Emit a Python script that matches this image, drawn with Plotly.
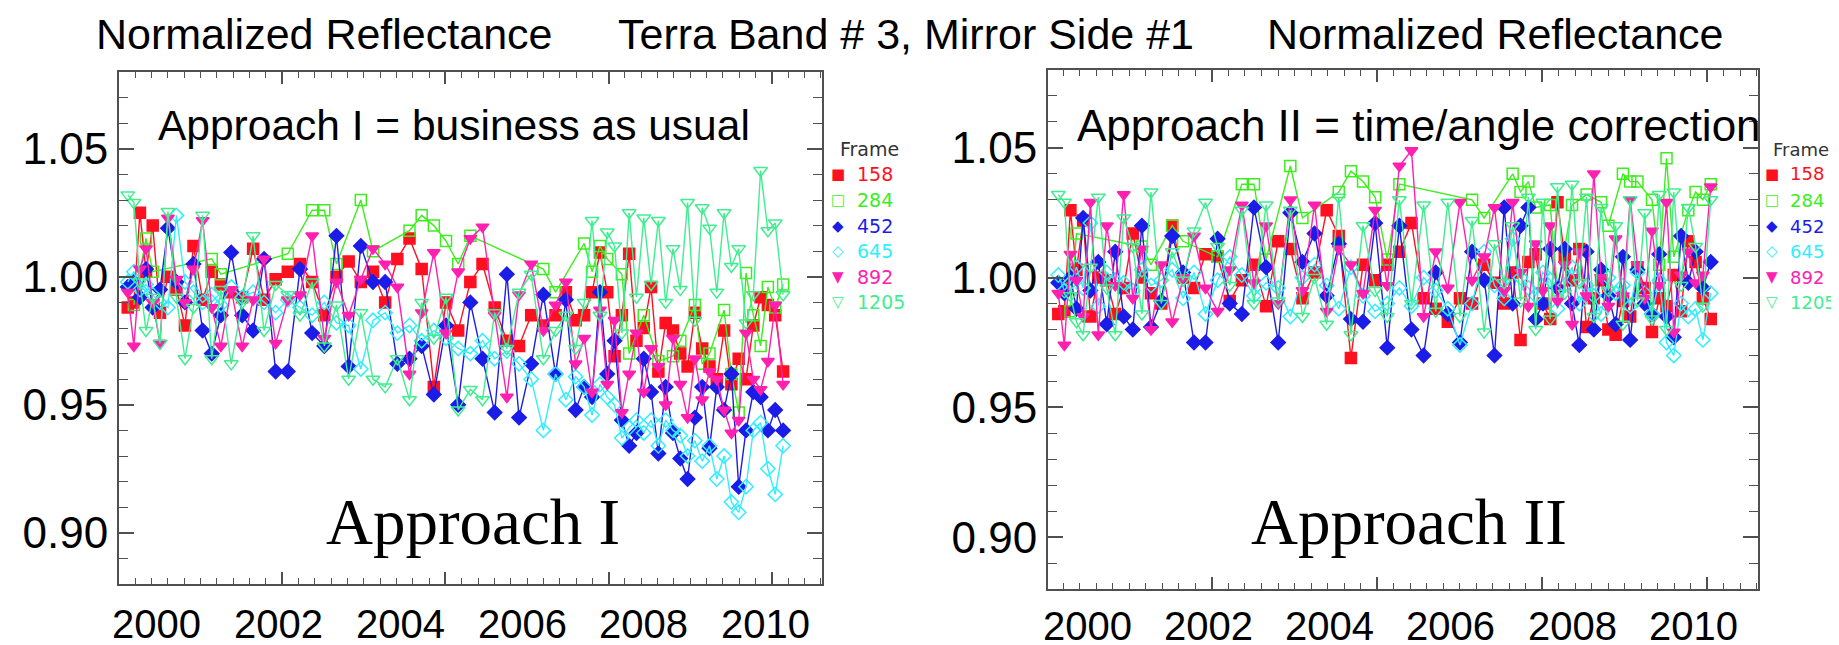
import plotly.graph_objects as go

W, H = 1839, 645


def px(x):
    return x / W


def py(y):
    return 1 - y / H


# ---------------- data ----------------
frames = ["158", "284", "452", "645", "892", "1205"]

dates = [
    1999.52, 1999.62, 1999.72, 1999.82, 1999.93, 2000.05, 2000.18, 2000.32, 2000.46, 2000.60,
    2000.75, 2000.90, 2001.05, 2001.22, 2001.40, 2001.58, 2001.76, 2001.95, 2002.15, 2002.35,
    2002.55, 2002.75, 2002.95, 2003.15, 2003.35, 2003.55, 2003.75, 2003.95, 2004.15, 2004.35,
    2004.55, 2004.75, 2004.95, 2005.15, 2005.35, 2005.55, 2005.75, 2005.95, 2006.15, 2006.35,
    2006.55, 2006.72, 2006.88, 2007.02, 2007.15, 2007.28, 2007.40, 2007.52, 2007.64, 2007.76,
    2007.88, 2008.00, 2008.12, 2008.24, 2008.36, 2008.48, 2008.60, 2008.72, 2008.84, 2008.96,
    2009.08, 2009.20, 2009.32, 2009.44, 2009.56, 2009.68, 2009.80, 2009.92, 2010.04, 2010.16,
    2010.29,
]

# Approach I
r1_158 = [
    0.988, 0.990, 1.025, 1.002, 1.020, 0.986, 1.000, 0.995, 0.981, 1.012,
    0.991, 1.002, 0.997, 0.994, 0.992, 1.011, 0.991, 0.999, 1.002, 1.005,
    0.998, 0.985, 1.000, 1.006, 0.998, 1.002, 0.990, 1.007, 1.015, 1.003,
    0.957, 0.990, 0.979, 0.998, 1.005, 0.988, 0.975, 0.973, 0.985, 0.981,
    0.985, 0.994, 0.983, 0.985, 0.994, 1.0095, 0.994, 0.969, 0.985, 1.009,
    0.975, 0.980, 0.996, 0.963, 0.982, 0.979, 0.970, 0.965, 0.986, 0.972,
    0.965, 0.960, 0.979, 0.958, 0.968, 0.960, 0.981, 0.992, 0.989, 0.985,
    0.963,
]
g1_284 = [
    None, 0.989, None, 1.015, 1.002, None, None, None, None, None,
    None, 1.007, 1.001, None, None, None, None, None, 1.009, None,
    1.026, 1.026, 1.005, None, 1.030, 1.010, None, None, 1.018, 1.024,
    1.020, 1.014, 1.005, 1.016, None, None, None, None, None, 1.003,
    0.994, None, None, 1.013, 1.002, 1.012, 1.007, None, 1.001, 0.970,
    None, 0.985, None, 0.967, None, 0.969, 0.975, None, 0.989, 0.966,
    0.970, None, 0.987, 0.962, 0.947, 1.0015, 0.985, 0.973, 0.996, 0.988,
    0.997,
]
b1_452 = [
    0.996, 0.998, 0.992, 1.003, 0.988, 0.995, 1.019, 0.998, 0.990, 1.005,
    0.979, 0.970, 0.985, 1.0095, 0.985, 0.979, 1.007, 0.963, 0.963, 1.003,
    0.978, 0.973, 1.016, 0.965, 1.012, 0.998, 0.998, 0.966, 0.968, 0.973,
    0.954, 0.981, 0.950, 0.990, 0.968, 0.947, 1.001, 0.945, 0.966, 0.993,
    0.962, 0.991, 0.948, 0.957, 0.953, 0.994, 0.962, 0.975, 0.944, 0.934,
    0.939, 0.968, 0.955, 0.931, 0.957, 0.939, 0.929, 0.921, 0.945, 0.957,
    0.933, 0.957, 0.948, 0.962, 0.918, 0.940, 0.955, 0.953, 0.940, 0.948,
    0.940,
]
c1_645 = [
    0.998, 1.002, 0.995, 0.997, 0.993, 0.990, 0.988, 1.024, 0.998, 0.994,
    0.990, 0.993, 0.989, 0.996, 0.992, 0.994, 0.990, 0.986, 0.991, 0.988,
    0.985, 0.990, 0.982, 0.981, 0.964, 0.983, 0.986, 0.978, 0.981, 0.975,
    0.979, 0.976, 0.972, 0.970, 0.975, 0.968, 0.971, 0.966, 0.960, 0.940,
    0.962, 0.952, 0.961, 0.957, 0.946, 0.958, 0.953, 0.950, 0.937, 0.941,
    0.944, 0.939, 0.944, 0.934, 0.944, 0.940, 0.938, 0.930, 0.936, 0.928,
    0.934, 0.921, 0.930, 0.912, 0.908, 0.918, 0.940, 0.943, 0.925, 0.915,
    0.934,
]
m1_892 = [
    0.994, 0.973, 1.003, 1.011, 0.990, 0.974, 1.023, 0.999, 0.990, 1.003,
    1.022, 0.988, 0.973, 0.995, 0.973, 0.991, 1.007, 0.974, 0.991, 0.993,
    1.016, 0.976, 0.998, 0.985, 0.999, 1.011, 1.005, 0.996, 0.962, 0.986,
    1.0095, 0.978, 1.002, 1.015, 1.0195, 0.985, 0.953, 0.993, 1.005, 0.979,
    0.989, 0.998, 0.966, 0.976, 0.955, 0.987, 0.958, 0.983, 0.947, 0.962,
    0.978, 0.955, 0.972, 0.965, 0.950, 0.976, 0.958, 0.945, 0.968, 0.952,
    0.963, 0.960, 0.948, 0.939, 0.944, 0.978, 0.960, 0.956, 0.967, 0.989,
    0.958,
]
s1_1205 = [
    1.032, 1.029, 0.998, 0.979, 0.992, 0.974, 1.0255, 0.992, 0.968, 0.988,
    1.024, 0.968, 0.995, 0.966, 0.990, 1.016, 0.979, 0.997, 0.993, 0.985,
    0.998, 0.973, 0.989, 0.960, 0.986, 0.960, 0.957, 0.968, 0.952, 0.990,
    0.976, 0.992, 0.948, 0.956, 0.952, 0.986, 0.972, 0.994, 1.001, 0.968,
    0.979, 0.985, 0.972, 0.990, 1.022, 0.985, 1.0175, 1.012, 0.978, 1.025,
    0.992, 1.023, 0.997, 1.022, 0.990, 1.011, 0.995, 1.029, 0.983, 1.027,
    1.019, 0.994, 1.025, 1.004, 1.011, 0.982, 0.993, 1.0415, 1.018, 1.021,
    0.993,
]

# Approach II
r2_158 = [
    0.986, 0.987, 1.026, 1.003, 1.022, 0.985, 1.000, 0.999, 0.986, 0.996,
    1.017, 1.000, 0.994, 0.990, 1.020, 1.000, 0.996, 1.009, 1.008, 0.991,
    0.999, 1.005, 0.989, 1.014, 1.011, 0.992, 1.002, 1.026, 1.016, 0.969,
    1.005, 0.999, 1.005, 1.010, 1.021, 0.992, 0.988, 0.983, 0.992, 0.990,
    1.005, 0.998, 0.990, 1.002, 0.976, 1.006, 1.009, 0.990, 0.984, 1.029,
    1.008, 0.999, 1.011, 0.981, 0.992, 0.999, 0.980, 0.978, 0.991, 0.985,
    1.004, 0.996, 0.979, 0.992, 0.989, 1.001, 0.987, 1.014, 1.006, 0.992,
    0.984,
]
g2_284 = [
    None, None, 0.987, 1.017, None, None, None, None, None, None,
    None, 1.012, 1.005, None, 1.020, 1.014, None, None, 1.008, None,
    1.036, 1.036, 1.007, None, 1.043, 1.023, None, None, 1.033, 1.041,
    1.037, 1.031, 1.007, 1.036, None, None, None, None, None, 1.030,
    1.023, None, None, 1.040, 1.033, 1.037, 1.027, None, 1.028, 0.995,
    None, 1.028, None, 1.032, None, 1.029, 1.020, None, 1.040, 1.037,
    1.037, None, 1.030, 1.005, 1.046, 1.008, None, 1.026, 1.033, 1.030,
    1.036,
]
b2_452 = [
    0.998, 0.994, 1.000, 0.988, 1.023, 0.995, 1.006, 0.982, 1.010, 0.985,
    0.980, 1.020, 0.981, 0.991, 1.016, 1.002, 0.975, 0.975, 1.015, 0.990,
    0.986, 1.027, 1.004, 0.975, 1.025, 1.006, 1.017, 0.993, 1.013, 0.984,
    0.983, 1.021, 0.973, 1.020, 0.980, 0.970, 1.002, 0.986, 0.975, 1.010,
    0.999, 0.970, 1.027, 0.990, 1.020, 1.027, 0.984, 0.990, 1.011, 0.996,
    1.011, 0.990, 0.974, 1.010, 0.980, 1.003, 0.993, 0.982, 1.008, 0.976,
    1.003, 0.990, 0.986, 1.009, 0.985, 0.977, 1.016, 0.998, 1.010, 0.996,
    1.006,
]
c2_645 = [
    1.001, 0.995, 0.998, 1.004, 0.996, 1.021, 0.989, 1.002, 0.999, 0.998,
    0.995, 1.003, 0.997, 0.999, 1.003, 0.992, 1.002, 0.986, 0.999, 1.008,
    1.001, 0.993, 0.998, 0.996, 0.985, 1.000, 1.005, 0.997, 0.988, 1.004,
    0.993, 0.987, 0.990, 0.996, 0.989, 1.000, 0.995, 0.988, 0.974, 0.990,
    1.010, 0.997, 0.992, 1.015, 1.000, 0.996, 0.993, 1.002, 0.999, 0.988,
    0.997, 1.004, 0.990, 0.997, 0.993, 0.986, 1.000, 0.994, 0.997, 0.989,
    1.002, 0.994, 0.986, 0.999, 0.975, 0.970, 0.990, 0.985, 0.988, 0.976,
    0.994,
]
m2_892 = [
    0.994, 0.974, 1.009, 0.999, 0.985, 1.029, 0.978, 1.020, 0.997, 1.032,
    0.992, 1.011, 0.980, 1.005, 0.983, 1.000, 1.016, 0.996, 0.987, 1.003,
    1.028, 0.998, 1.020, 0.990, 1.030, 0.995, 1.028, 0.987, 1.011, 1.005,
    0.994, 1.026, 0.997, 1.043, 1.049, 0.985, 1.010, 0.996, 1.029, 0.999,
    1.008, 1.027, 0.995, 1.029, 1.002, 0.989, 1.013, 0.995, 1.020, 0.991,
    1.005, 0.982, 1.010, 0.993, 1.040, 1.000, 0.989, 1.015, 0.993, 1.030,
    1.005, 0.992, 1.018, 0.997, 1.029, 0.979, 1.001, 1.010, 0.998, 1.001,
    1.035,
]
s2_1205 = [
    1.032, 1.029, 0.993, 0.983, 0.978, 1.004, 1.031, 0.996, 0.978, 1.023,
    1.012, 0.986, 1.033, 0.990, 1.010, 0.999, 1.018, 1.029, 1.012, 0.997,
    1.026, 0.990, 1.028, 0.991, 1.026, 0.985, 1.000, 0.982, 1.031, 0.978,
    1.020, 0.995, 0.985, 1.030, 0.990, 1.028, 0.987, 1.029, 0.985, 1.022,
    0.979, 1.013, 0.998, 1.020, 0.991, 1.031, 0.980, 1.029, 0.984, 1.035,
    0.994, 1.036, 0.998, 1.031, 0.985, 1.027, 0.995, 1.020, 0.982, 1.030,
    0.991, 1.025, 0.984, 1.032, 0.980, 1.033, 0.997, 1.027, 1.012, 0.989,
    1.030,
]

year_ticks = [2000, 2002, 2004, 2006, 2008, 2010]
year_labels = ["2000", "2002", "2004", "2006", "2008", "2010"]

# ---------------- styles ----------------
colors = ["#ff1020", "#3cee1c", "#1c1ce8", "#30eeff", "#ff20b0", "#40ee90"]
symbols = ["square", "square-open", "diamond", "diamond-open",
           "triangle-down", "triangle-down-open"]
glyphs = ["\u25A0", "\u25A1", "\u25C6", "\u25C7", "\u25BC", "\u25BD"]
sizes = [11, 11, 11, 11, 11, 12]
AX = "#505050"
SANS = "Liberation Sans, Arial, sans-serif"
SERIF = "Liberation Serif, Times New Roman, serif"
LEG = "DejaVu Sans, Verdana, sans-serif"

fig = go.Figure()

panels = [
    ([r1_158, g1_284, b1_452, c1_645, m1_892, s1_1205], "x", "y"),
    ([r2_158, g2_284, b2_452, c2_645, m2_892, s2_1205], "x2", "y2"),
]
for series, xa, ya in panels:
    for vals, fr, col, sym, sz in zip(series, frames, colors, symbols, sizes):
        fig.add_trace(go.Scatter(
            x=dates, y=vals, mode="lines+markers", connectgaps=True, name=fr,
            line=dict(color=col, width=1.4),
            marker=dict(symbol=sym, size=sz, color=col, line=dict(color=col, width=1.5)),
            xaxis=xa, yaxis=ya, showlegend=False, hoverinfo="skip",
        ))


def x_axis(dom, rng, anchor, t0, step):
    return dict(domain=dom, range=rng, anchor=anchor,
                showticklabels=False, tickmode="linear", tick0=t0, dtick=step,
                ticks="inside", ticklen=12, tickwidth=1.5, tickcolor=AX,
                minor=dict(tick0=t0, dtick=step / 10, ticks="inside",
                           ticklen=6, tickwidth=1.2, tickcolor=AX),
                showline=True, linecolor=AX, linewidth=2, mirror="ticks",
                showgrid=False, zeroline=False)


def y_axis(dom, anchor):
    return dict(domain=dom, range=[0.88, 1.08], anchor=anchor, tickmode="linear",
                tick0=0.90, dtick=0.05, tickformat=".2f",
                ticks="inside", ticklen=15, tickwidth=1.5, tickcolor=AX,
                minor=dict(tick0=0.88, dtick=0.01, ticks="inside",
                           ticklen=9, tickwidth=1.2, tickcolor=AX),
                showline=True, linecolor=AX, linewidth=2, mirror="ticks",
                showgrid=False, zeroline=False,
                tickfont=dict(family=SANS, size=44, color="black"))


xdom1 = [px(111), px(814)]
xdom2 = [px(1040), px(1750)]
xr1 = [1999.376, 2010.929]
xr2 = [1999.35, 2011.07]

fig.update_layout(
    width=W, height=H, autosize=False,
    margin=dict(l=0, r=0, t=0, b=0),
    paper_bgcolor="white", plot_bgcolor="white",
    showlegend=False,
    xaxis=x_axis(xdom1, xr1, "y", 2002.055, 2.684),
    xaxis2=x_axis(xdom2, xr2, "y2", 2002.057, 2.724),
    yaxis=y_axis([py(576), py(64)], "x"),
    yaxis2=y_axis([py(581), py(62)], "x2"),
)

# year labels placed under each panel at their year positions
for xref, ylab in (("x", 616), ("x2", 618)):
    for yv, lab in zip(year_ticks, year_labels):
        fig.add_annotation(text=lab, x=yv, y=py(ylab), xref=xref, yref="paper",
                           xanchor="center", yanchor="middle", showarrow=False,
                           font=dict(family=SANS, size=40, color="black"))

ann = [
    ("Normalized Reflectance", 315.5, 26, SANS, 43),
    ("Terra Band # 3, Mirror Side #1", 898, 26, SANS, 43),
    ("Normalized Reflectance", 1487, 26, SANS, 43),
    ("Approach I = business as usual", 445.5, 117, SANS, 42.5),
    ("Approach II = time/angle correction", 1411, 117, SANS, 44),
    ("Approach I", 465, 514, SERIF, 65),
    ("Approach II", 1400.7, 514, SERIF, 65),
]
for text, x, y, fam, size in ann:
    fig.add_annotation(text=text, x=px(x), y=py(y), xref="paper", yref="paper",
                       xanchor="center", yanchor="middle", showarrow=False,
                       font=dict(family=fam, size=size, color="black"))

# legends ("Frame" key) beside each panel
leg_rows = [166, 192, 218, 243, 269, 294]
for sym_x, txt_x, title_x, fs in ((830, 847, 829.5, 19), (1764, 1780, 1763, 18)):
    fig.add_annotation(text="Frame", x=px(title_x), y=py(141), xref="paper", yref="paper",
                       xanchor="left", yanchor="middle", showarrow=False,
                       font=dict(family=LEG, size=fs, color="#333333"))
    for fr, col, gl, ry in zip(frames, colors, glyphs, leg_rows):
        fig.add_annotation(text=gl, x=px(sym_x), y=py(ry), xref="paper", yref="paper",
                           xanchor="center", yanchor="middle", showarrow=False,
                           font=dict(family=LEG, size=15, color=col))
        fig.add_annotation(text=fr, x=px(txt_x), y=py(ry), xref="paper", yref="paper",
                           xanchor="left", yanchor="middle", showarrow=False,
                           font=dict(family=LEG, size=fs, color=col))

fig.write_html("out.html")
